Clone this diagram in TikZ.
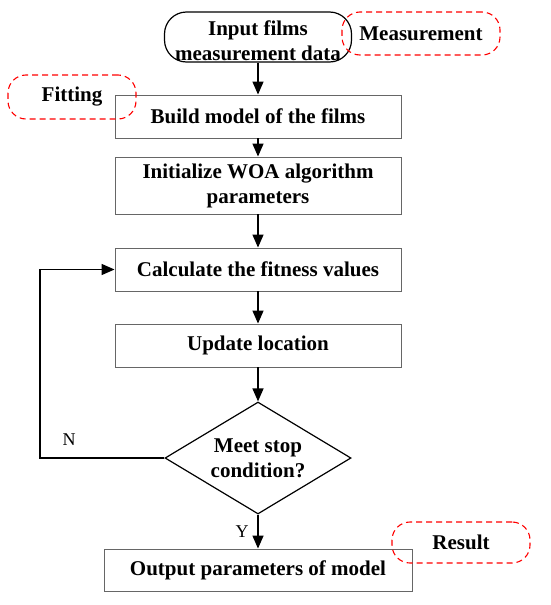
\documentclass[tikz,border=0pt]{standalone}
\usepackage{fontspec}
\setmainfont{Liberation Serif}
\usetikzlibrary{arrows.meta}
\usetikzlibrary{shapes}

\begin{document}
\begin{tikzpicture}[x = 1pt, y = -1pt]
	\tikzstyle{stepStyle}=[shape = rectangle, draw = black!60, line width = 0.9pt, minimum width = 286pt, inner sep = 0pt, align = center, font = \fontsize{21}{25}\selectfont\bfseries]
	\tikzstyle{startStyle}=[shape = rectangle, rounded corners = 22pt, draw, line width = 1.2pt, inner sep = 0pt, align = center, font = \fontsize{21}{25}\selectfont\bfseries]
	\tikzstyle{decisionStyle}=[shape = diamond, draw, line width = 1.2pt, inner sep = 0pt, align = center, font = \fontsize{21}{25}\selectfont\bfseries]
	\tikzstyle{noteStyle}=[shape = rectangle, rounded corners = 18pt, draw = red, dash pattern = on 6pt off 4pt, line width = 1.1pt, inner sep = 0pt, font = \fontsize{21}{25}\selectfont\bfseries]
	\tikzstyle{flowStyle}=[-{Triangle[length = 13pt, width = 11pt]}, line width = 1.4pt]
	\tikzstyle{markStyle}=[font = \fontsize{18}{21}\selectfont]
	\useasboundingbox (0,0) rectangle (550,605);
	\node[startStyle, minimum width = 187pt, minimum height = 50pt] (input) at (258,37) {\rule{0pt}{23pt}Input films\\measurement data};
	\node[stepStyle, minimum height = 43pt] (build) at (258,116.5) {Build model of the films};
	\node[stepStyle, minimum height = 57pt] (init) at (258,185.5) {Initialize WOA algorithm\\parameters};
	\node[stepStyle, minimum height = 43pt] (calc) at (258,269.5) {Calculate the fitness values};
	\node[stepStyle, minimum height = 43pt] (update) at (258,345.5) {Update location};
	\node[decisionStyle, minimum width = 186pt, minimum height = 112pt, aspect = 1.66] (stop) at (258,458) {Meet stop\\condition?};
	\node[stepStyle, minimum width = 308pt, minimum height = 42pt] (output) at (258,570) {Output parameters of model};
	\node[noteStyle, minimum width = 158pt, minimum height = 43pt] (measure) at (421,33.5) {Measurement};
	\node[noteStyle, minimum width = 128pt, minimum height = 44pt] (fitting) at (72,97) {Fitting};
	\node[noteStyle, minimum width = 138pt, minimum height = 41pt] (result) at (461,542.5) {Result};
	\node[markStyle] (no) at (69,440) {N};
	\node[markStyle] (yes) at (242,532) {Y};
	\coordinate (loop) at (40,269.5);
	\draw[flowStyle] (input) -- (build);
	\draw[flowStyle] (build) -- (init);
	\draw[flowStyle] (init) -- (calc);
	\draw[flowStyle] (calc) -- (update);
	\draw[flowStyle] (update) -- (stop);
	\draw[flowStyle] (stop) -- (output);
	\draw[flowStyle] (stop.west) -| (loop) -- (calc.west);
\end{tikzpicture}
\end{document}
